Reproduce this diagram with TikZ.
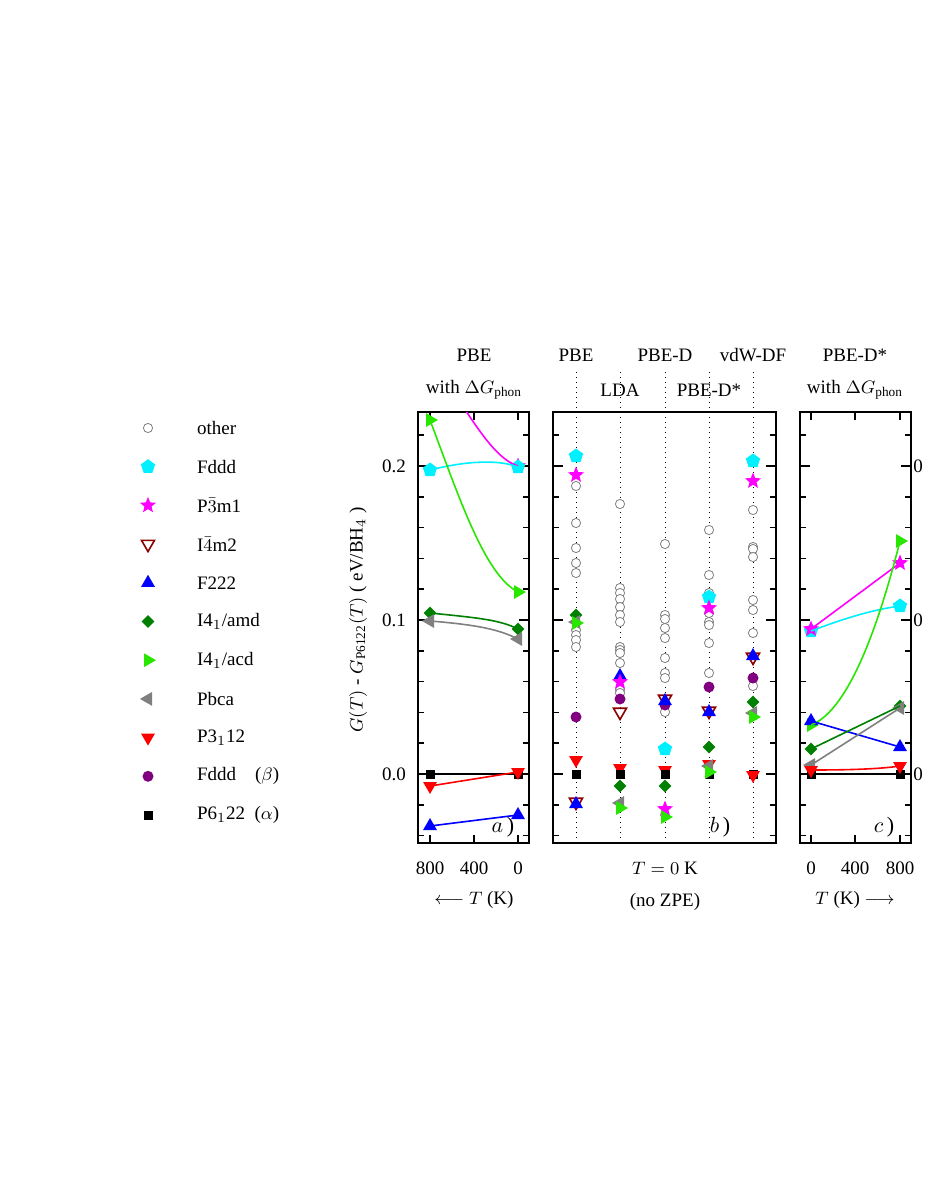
\documentclass[tikz,border=0pt]{standalone}
\usepackage{fontspec}
\setmainfont{Liberation Serif}
\usetikzlibrary{shapes.geometric,shapes.misc,positioning}
\definecolor{mcyan}{RGB}{0,240,255}
\definecolor{mmag}{RGB}{255,0,255}
\definecolor{mbrown}{RGB}{140,0,0}
\definecolor{mdgreen}{RGB}{0,128,0}
\definecolor{mgreen}{RGB}{40,230,0}
\definecolor{mgray}{RGB}{128,128,128}
\definecolor{mpurple}{RGB}{128,0,128}
\begin{document}
\begin{tikzpicture}[x=0.5pt,y=-0.5pt,font=\fontsize{9.5}{11}\selectfont]
  \tikzset{
    mark base/.style={inner sep=0pt, draw=none},
    mo/.style={circle, draw=mgray, thin, fill=white, minimum size=4.6pt, inner sep=0pt},
    mfd/.style={mark base, regular polygon, regular polygon sides=5, fill=mcyan, minimum size=7.5pt},
    mstar/.style={mark base, star, star points=5, star point ratio=2.3, fill=mmag, minimum size=8.5pt},
    mopen/.style={regular polygon, regular polygon sides=3, shape border rotate=180, draw=mbrown, thick, fill=white, inner sep=0pt, minimum size=7.5pt},
    mup/.style={mark base, regular polygon, regular polygon sides=3, fill=blue, minimum size=8pt},
    mamd/.style={mark base, diamond, fill=mdgreen, minimum size=6.5pt},
    macd/.style={mark base, regular polygon, regular polygon sides=3, shape border rotate=-90, fill=mgreen, minimum size=8pt},
    mpb/.style={mark base, regular polygon, regular polygon sides=3, shape border rotate=90, fill=mgray, minimum size=8pt},
    mdown/.style={mark base, regular polygon, regular polygon sides=3, shape border rotate=180, fill=red, minimum size=8pt},
    mbeta/.style={mark base, circle, fill=mpurple, minimum size=5.5pt},
    malpha/.style={mark base, rectangle, fill=black, minimum size=4.5pt},
    panel/.style={draw, line width=0.9pt},
    fit line/.style={line width=0.8pt},
  }
  \useasboundingbox (0,0) rectangle (926,1199);

  % legend
  \foreach \s/\t [count=\i from 0] in {mo/other, mfd/Fddd, mstar/P$\bar{3}$m1, mopen/I$\bar{4}$m2, mup/F222,
      mamd/{I4$_1$/amd}, macd/{I4$_1$/acd}, mpb/Pbca, mdown/P3$_1$12, mbeta/{Fddd\quad($\beta$)}, malpha/{P6$_1$22\enspace($\alpha$)}}
  {
    \node[\s] (leg\i) at (148,{428+38.7*\i}) {};
    \node[anchor=west] at (190,{428+38.7*\i}) {\t};
  }

  % frames and ticks
  \foreach \xl/\xr in {418/529, 553/776, 800/911} {
    \draw[panel] (\xl,412) rectangle (\xr,843);
    \foreach \k in {-2,...,11} {
      \pgfmathsetmacro\yy{774-30.8*\k}
      \pgfmathsetmacro\len{ifthenelse(mod(\k+10,5)==0,10,6)}
      \draw[line width=0.8pt] (\xl,\yy) -- ++(\len,0);
      \draw[line width=0.8pt] (\xr,\yy) -- ++(-\len,0);
    }
  }
  \foreach \x in {430,474,518} {
    \draw[line width=0.8pt] (\x,412) -- ++(0,8); \draw[line width=0.8pt] (\x,843) -- ++(0,-8);
  }
  \foreach \x in {811,855,900} {
    \draw[line width=0.8pt] (\x,412) -- ++(0,8); \draw[line width=0.8pt] (\x,843) -- ++(0,-8);
  }
  \draw[line width=0.8pt] (418,774) -- (529,774);
  \draw[line width=0.8pt] (800,774) -- (911,774);
  \foreach \x in {576,620,665,709,753}
    \draw[dotted, line width=0.5pt] (\x,372) -- (\x,843);

  % axis texts
  \node[anchor=east] at (413,466) {0.2};
  \node[anchor=east] at (413,620) {0.1};
  \node[anchor=east] at (413,774) {0.0};
  \node[anchor=west, inner xsep=1pt] at (911,466) {0};
  \node[anchor=west, inner xsep=1pt] at (911,620) {0};
  \node[anchor=west, inner xsep=1pt] at (911,774) {0};
  \node[rotate=90] at (358,620) {$G(T)$ - $G_{\mathrm{P6122}}(T)$ ( eV/BH$_4$ )};
  \node at (474,355) {PBE};
  \node at (474,390) {with $\Delta G_{\mathrm{phon}}$};
  \node at (576,355) {PBE};
  \node at (665,355) {PBE-D};
  \node at (753,355) {vdW-DF};
  \node at (620,390) {LDA};
  \node at (709,390) {PBE-D*};
  \node at (855,355) {PBE-D*};
  \node at (855,390) {with $\Delta G_{\mathrm{phon}}$};
  \foreach \x/\t in {430/800,474/400,518/0,811/0,855/400,900/800}
    \node at (\x,868) {\t};
  \node at (474,900) {$\longleftarrow$ $T$ (K)};
  \node at (855,900) {$T$ (K) $\longrightarrow$};
  \node at (665,868) {$T = 0$ K};
  \node at (665,902) {(no ZPE)};
  \node at (503,827) {\fontsize{11}{12}\selectfont$a$\,)};
  \node at (720,827) {\fontsize{11}{12}\selectfont$b$\,)};
  \node at (884,827) {\fontsize{11}{12}\selectfont$c$\,)};

  % panel a
  \begin{scope}
    \clip (418,412) rectangle (529,843);
    \node[mstar] (a3) at (518,466) {};
    \node[mfd] (a2l) at (430,470) {}; \node[mfd] (a2r) at (518,467) {};
    \node[macd] (a7l) at (430,420) {}; \node[macd] (a7r) at (518,592) {};
    \node[mamd] (a6l) at (430,613) {}; \node[mamd] (a6r) at (518,629) {};
    \node[mpb] (a8l) at (430,621) {}; \node[mpb] (a8r) at (518,639) {};
    \node[malpha] (a11l) at (430,774) {}; \node[malpha] (a11r) at (518,774) {};
    \node[mdown] (a9l) at (430,786) {}; \node[mdown] (a9r) at (518,772) {};
    \node[mup] (a5l) at (430,826) {}; \node[mup] (a5r) at (518,815) {};
    \draw[mmag, fit line] (462,405) .. controls (485,440) and (500,460) .. (a3.center);
    \draw[mcyan, fit line] (a2l.center) .. controls (470,460) and (500,460) .. (a2r.center);
    \draw[mgreen, fit line] (a7l.center) .. controls (460,500) and (485,575) .. (a7r.center);
    \draw[mdgreen, fit line] (a6l.center) .. controls (480,618) and (500,620) .. (a6r.center);
    \draw[mgray, fit line] (a8l.center) .. controls (480,625) and (500,630) .. (a8r.center);
    \draw[red, fit line] (a9l.center) -- (a9r.center);
    \draw[blue, fit line] (a5l.center) -- (a5r.center);
  \end{scope}

  % panel b
  \foreach \x/\list in {576/{486,523,548,563,573,630,635,640,647},
                        620/{504,588,593,599,607,615,622,647,650,653,663,690,693},
                        665/{544,615,619,628,638,658,673,678,705,712},
                        709/{530,575,593,613,622,625,643,673},
                        753/{510,547,549,557,600,610,633,686}}
    \foreach \y in \list \node[mo] at (\x,\y) {};
  \foreach \s/\x/\y in {mfd/576/456, mstar/576/475, mamd/576/615, mpb/576/622, macd/576/623, mbeta/576/717,
      mdown/576/760, malpha/576/774, mopen/576/802, mup/576/804,
      mup/620/676, mstar/620/682, mbeta/620/699, mopen/620/712, mdown/620/768, malpha/620/774,
      mamd/620/786, mpb/620/803, macd/620/808,
      mopen/665/699, mbeta/665/705, mup/665/701, mfd/665/749, mdown/665/770, malpha/665/774,
      mamd/665/786, mstar/665/809, macd/665/817,
      mfd/709/597, mstar/709/608, mbeta/709/687, mopen/709/711, mup/709/712, mamd/709/747,
      mdown/709/764, mpb/709/766, malpha/709/774, macd/709/772,
      mfd/753/461, mstar/753/481, mopen/753/657, mup/753/656, mbeta/753/678, mamd/753/702,
      mpb/753/713, macd/753/717, malpha/753/774, mdown/753/775}
    \node[\s] at (\x,\y) {};

  % panel c
  \node[mfd] (c2l) at (811,631) {}; \node[mfd] (c2r) at (900,606) {};
  \node[mstar] (c3l) at (811,629) {}; \node[mstar] (c3r) at (900,563) {};
  \node[macd] (c7l) at (811,725) {}; \node[macd] (c7r) at (900,541) {};
  \node[mup] (c5l) at (811,721) {}; \node[mup] (c5r) at (900,747) {};
  \node[mamd] (c6l) at (811,749) {}; \node[mamd] (c6r) at (900,706) {};
  \node[mpb] (c8l) at (811,765) {}; \node[mpb] (c8r) at (900,708) {};
  \node[malpha] (c11l) at (811,774) {}; \node[malpha] (c11r) at (900,774) {};
  \node[mdown] (c9l) at (811,770) {}; \node[mdown] (c9r) at (900,766) {};
  \draw[mcyan, fit line] (c2l.center) .. controls (840,620) and (870,610) .. (c2r.center);
  \draw[mmag, fit line] (c3l.center) -- (c3r.center);
  \draw[mgreen, fit line] (c7l.center) .. controls (845,712) and (875,640) .. (c7r.center);
  \draw[blue, fit line] (c5l.center) -- (c5r.center);
  \draw[mdgreen, fit line] (c6l.center) -- (c6r.center);
  \draw[mgray, fit line] (c8l.center) -- (c8r.center);
  \draw[red, fit line] (c9l.center) .. controls (850,770) and (880,769) .. (c9r.center);
\end{tikzpicture}
\end{document}
